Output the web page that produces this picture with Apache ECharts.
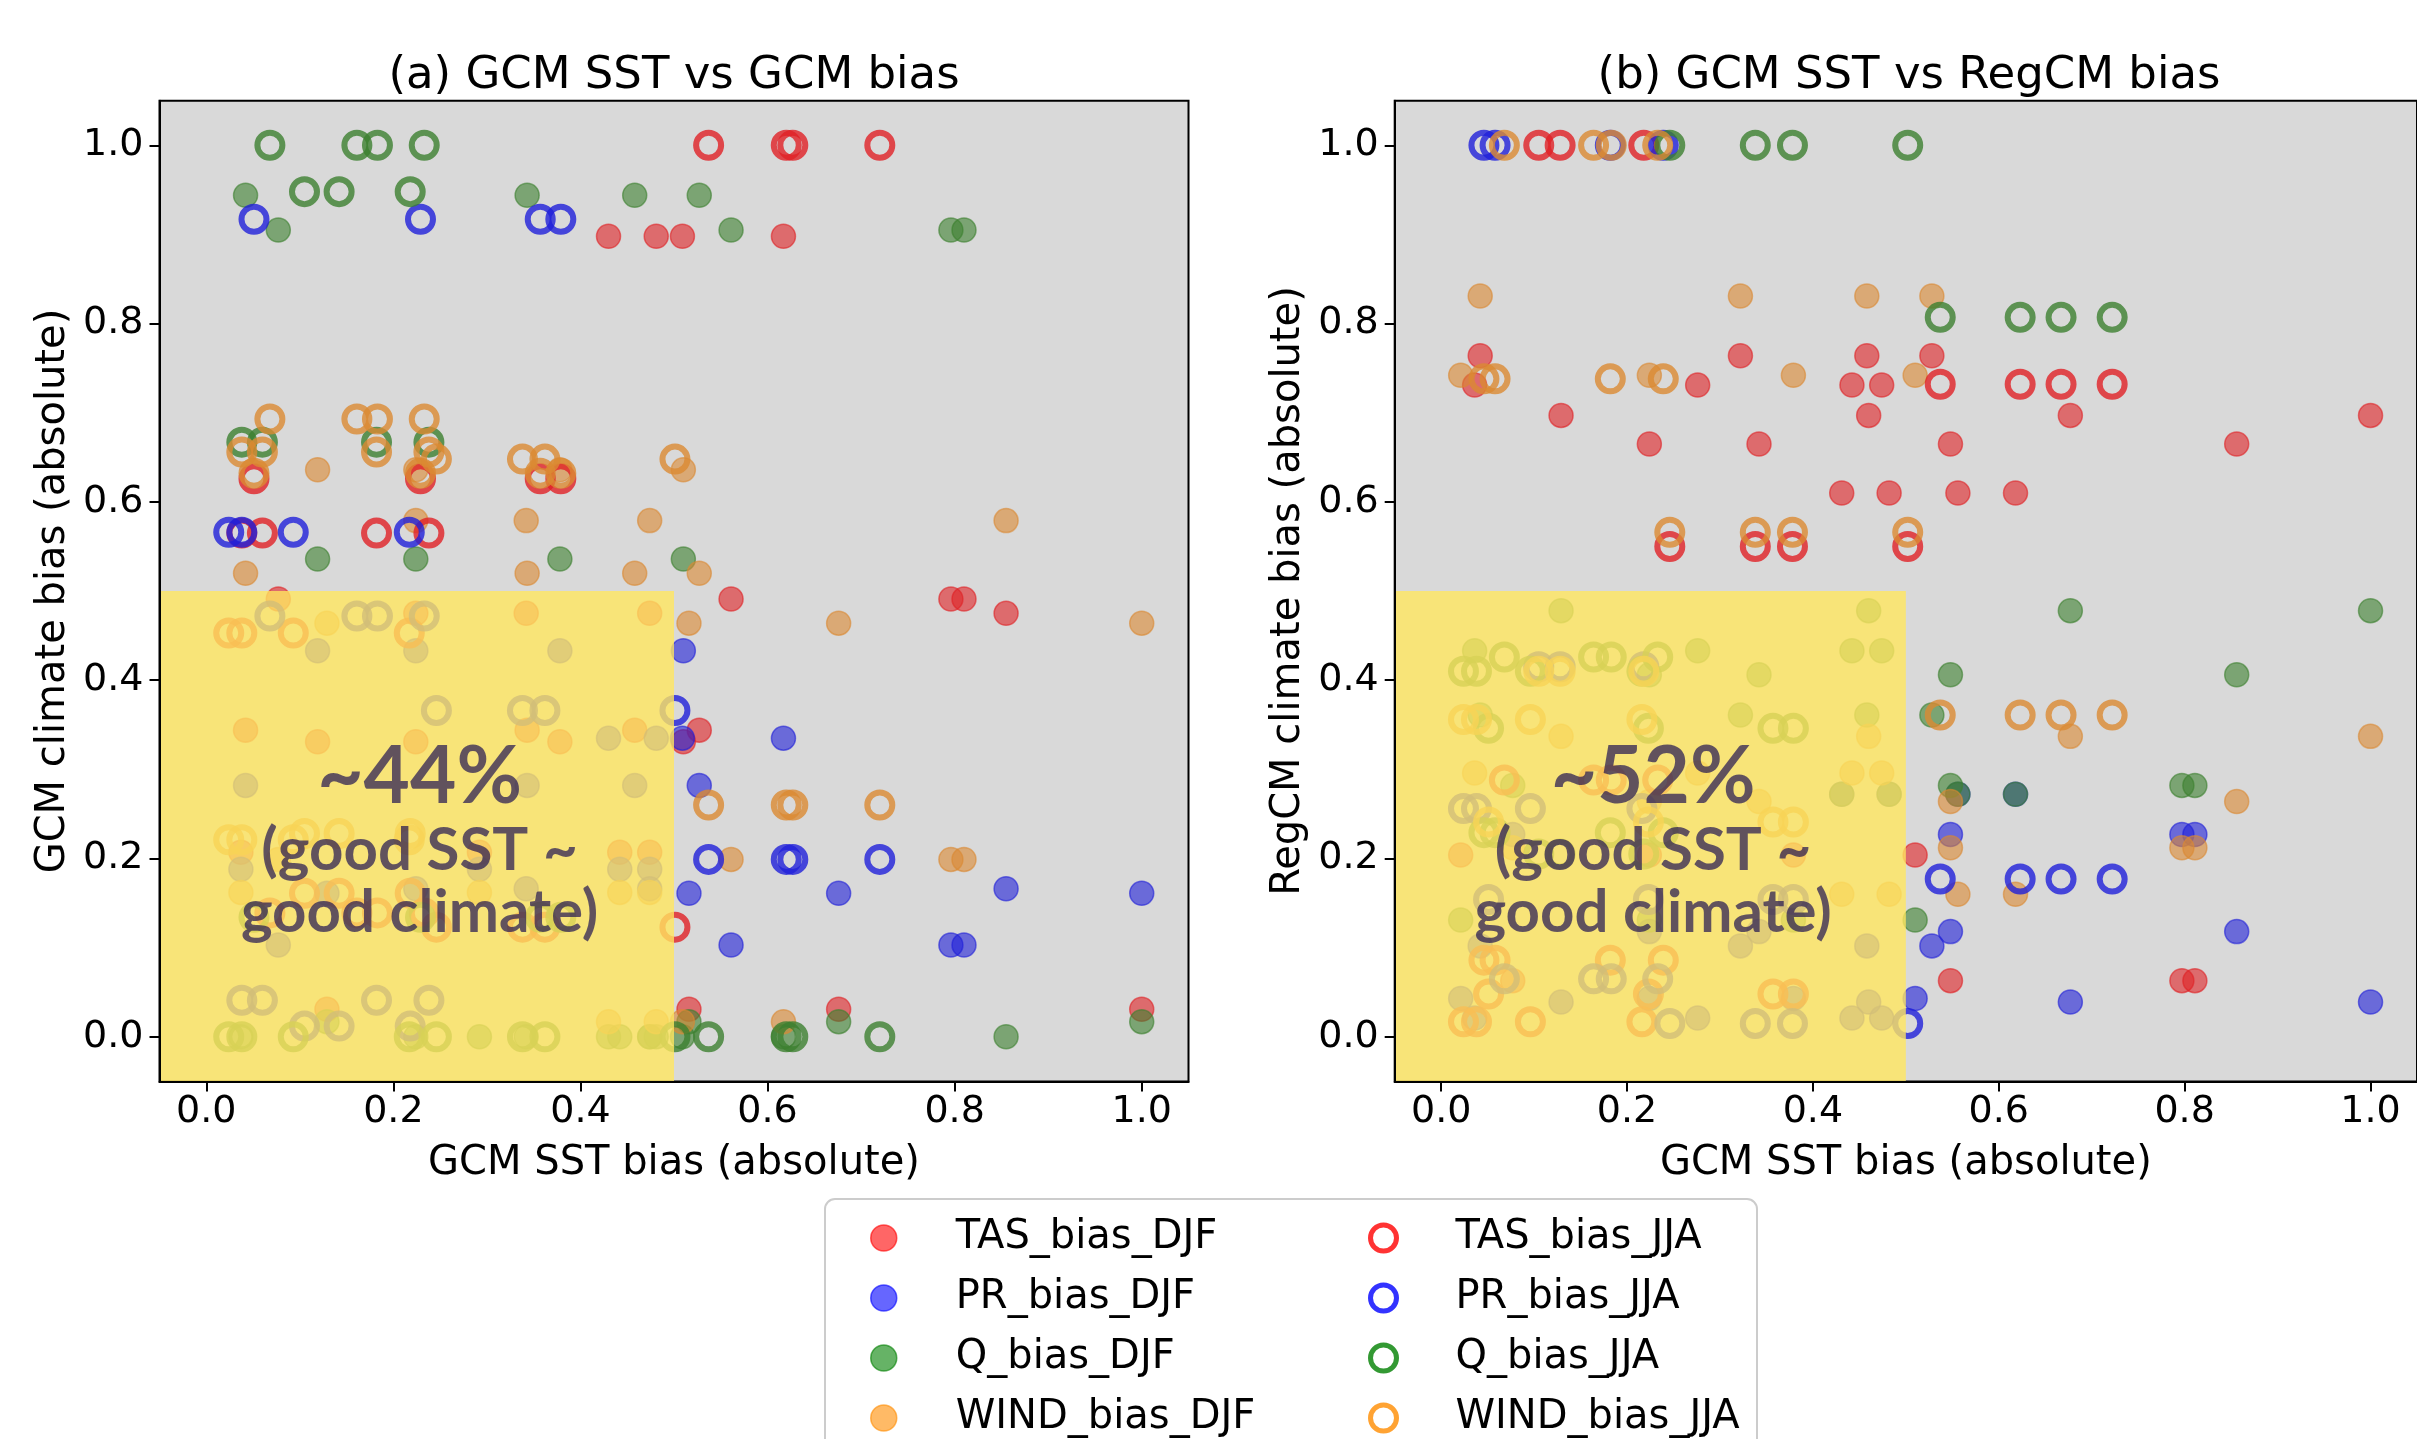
<!DOCTYPE html>
<html>
<head>
<meta charset="utf-8">
<script src="https://cdn.jsdelivr.net/npm/echarts@6/dist/echarts.min.js"></script>
<style>
  html, body { margin: 0; padding: 0; background: #ffffff; }
  #chart { width: 2417px; height: 1439px; }
</style>
</head>
<body>
<div id="chart"></div>
<script>
// ---- data ------------------------------------------------------------
// x = GCM SST bias of each model, grouped by models sharing the same climate bias
// (a) GCM bias panel, DJF models (7 groups)
const djfX_a = [
  [0.042, 0.343, 0.458, 0.527],
  [0.077, 0.561, 0.796, 0.810],
  [0.119, 0.224, 0.378, 0.510],
  [0.430, 0.481, 0.509, 0.617],
  [0.129, 0.516, 0.676, 1.000],
  [0.224, 0.342, 0.474, 0.855],
  [0.037, 0.292, 0.442, 0.474]
];
const tasDJF_a  = [0.344, 0.491, 0.331, 0.898, 0.031, 0.475, 0.207];
const prDJF_a   = [0.282, 0.103, 0.433, 0.335, 0.161, 0.166, 0.188];
const qDJF_a    = [0.944, 0.905, 0.536, 0.000, 0.017, 0.000, 0.000];
const windDJF_a = [0.520, 0.199, 0.636, 0.017, 0.464, 0.579, 0.162];

// (a) JJA models (7 groups)
const jjaX_a = [
  [0.068, 0.161, 0.183, 0.233],
  [0.051, 0.229, 0.357, 0.379],
  [0.038, 0.060, 0.182, 0.238],
  [0.024, 0.038, 0.093, 0.217],
  [0.105, 0.142, 0.218],
  [0.246, 0.338, 0.362, 0.501],
  [0.537, 0.620, 0.627, 0.720]
];
const tasJJA_a  = [0.139, 0.626, 0.565, 0.453, 0.161, 0.123, 1.000];
const prJJA_a   = [0.472, 0.917, 0.041, 0.566, 0.012, 0.366, 0.199];
const qJJA_a    = [1.000, 0.134, 0.667, 0.000, 0.948, 0.000, 0.000];
const windJJA_a = [0.693, 0.632, 0.656, 0.221, 0.228, 0.648, 0.260];

// (b) RegCM bias panel, DJF models
const djfX_b = [
  [0.042, 0.322, 0.458, 0.528],
  [0.077, 0.548, 0.797, 0.811],
  [0.021, 0.224, 0.379, 0.510],
  [0.431, 0.482, 0.556, 0.618],
  [0.129, 0.460, 0.677, 1.000],
  [0.224, 0.342, 0.548, 0.856],
  [0.036, 0.276, 0.442, 0.474]
];
const tasDJF_b  = [0.764, 0.063, 0.204, 0.610, 0.697, 0.665, 0.731];
const prDJF_b   = [0.102, 0.227, 0.043, 0.272, 0.039, 0.118, 0.021];
const qDJF_b    = [0.361, 0.282, 0.131, 0.272, 0.478, 0.406, 0.433];
const windDJF_b = [0.831, 0.212, 0.742, 0.160, 0.337, 0.264, 0.296];

// (b) JJA models
const jjaX_b = [
  [0.068, 0.164, 0.183, 0.233],
  [0.051, 0.223, 0.357, 0.379],
  [0.046, 0.058, 0.182, 0.239],
  [0.024, 0.038, 0.096, 0.216],
  [0.105, 0.128, 0.218],
  [0.246, 0.338, 0.378, 0.502],
  [0.537, 0.623, 0.667, 0.722]
];
const tasJJA_b  = [0.288, 0.048, 0.086, 0.017, 1.000, 0.550, 0.732];
const prJJA_b   = [0.065, 0.154, 1.000, 0.256, 0.415, 0.015, 0.177];
const qJJA_b    = [0.426, 0.346, 0.229, 0.410, 0.205, 1.000, 0.807];
const windJJA_b = [1.000, 0.241, 0.738, 0.356, 0.410, 0.566, 0.361];

const xTicks = [0.0, 0.2, 0.4, 0.6, 0.8, 1.0];
const yTicks = [0.0, 0.2, 0.4, 0.6, 0.8, 1.0];

const djfNames = ['TAS_bias_DJF', 'PR_bias_DJF', 'Q_bias_DJF', 'WIND_bias_DJF'];
const jjaNames = ['TAS_bias_JJA', 'PR_bias_JJA', 'Q_bias_JJA', 'WIND_bias_JJA'];
const titles = ['(a) GCM SST vs GCM bias', '(b) GCM SST vs RegCM bias'];
const yNames = ['GCM climate bias (absolute)', 'RegCM climate bias (absolute)'];
const shares = ['~44%', '~52%'];

// ---- style ------------------------------------------------------------
const FONT = 'DejaVu Sans';
const varColors = ['#e02125', '#1f1fd9', '#3c802f', '#db8932'];
// the legend handles are drawn in the plain named colours
const legendColors = ['#ff0000', '#0000ff', '#008000', '#ff8c00'];
const TEXT_INK = 'rgba(22,10,80,0.84)';

function points(groupsX, vals) {
  const out = [];
  groupsX.forEach(function (xs, i) {
    xs.forEach(function (x) { out.push([x, vals[i]]); });
  });
  return out;
}

function xAxisFor(gi) {
  return {
    type: 'value', gridIndex: gi, min: -0.05, max: 1.05, z: 20,
    name: 'GCM SST bias (absolute)', nameLocation: 'middle', nameGap: 62,
    nameTextStyle: { fontFamily: FONT, fontSize: 40, color: '#000' },
    axisLine: { show: true, onZero: false, lineStyle: { color: '#000', width: 2 } },
    axisTick: { show: true, customValues: xTicks, length: 10, lineStyle: { color: '#000', width: 2 } },
    axisLabel: { customValues: xTicks, formatter: v => v.toFixed(1), fontFamily: FONT, fontSize: 38, color: '#000', margin: 12 },
    splitLine: { show: false }
  };
}

function yAxisFor(gi) {
  return {
    type: 'value', gridIndex: gi, min: -0.05, max: 1.05, z: 20,
    name: yNames[gi], nameLocation: 'middle', nameGap: 86, nameRotate: 90,
    nameTextStyle: { fontFamily: FONT, fontSize: 40, color: '#000' },
    axisLine: { show: true, onZero: false, lineStyle: { color: '#000', width: 2 } },
    axisTick: { show: true, customValues: yTicks, length: 10, lineStyle: { color: '#000', width: 2 } },
    axisLabel: { customValues: yTicks, formatter: v => v.toFixed(1), fontFamily: FONT, fontSize: 38, color: '#000', margin: 16 },
    splitLine: { show: false }
  };
}

function panelSeries(gi, djfX, djfVals, jjaX, jjaVals) {
  const list = [];
  djfVals.forEach(function (vals, k) {
    list.push({
      name: djfNames[k], type: 'scatter', xAxisIndex: gi, yAxisIndex: gi,
      symbol: 'circle', symbolSize: 24,
      itemStyle: { color: varColors[k], opacity: 0.6, borderColor: varColors[k], borderWidth: 1.5 },
      emphasis: { disabled: true },
      data: points(djfX, vals)
    });
  });
  jjaVals.forEach(function (vals, k) {
    list.push({
      name: jjaNames[k], type: 'scatter', xAxisIndex: gi, yAxisIndex: gi,
      symbol: 'circle', symbolSize: 25,
      itemStyle: { color: 'rgba(0,0,0,0)', borderColor: varColors[k], borderWidth: 6 },
      emphasis: { disabled: true },
      data: points(jjaX, vals)
    });
  });
  // yellow "good SST" box, drawn over the markers like the original
  list.push({
    type: 'scatter', xAxisIndex: gi, yAxisIndex: gi, data: [], z: 10, silent: true,
    markArea: {
      silent: true, z: 10,
      itemStyle: { color: 'rgba(255,230,95,0.8)' },
      data: [[{ coord: [-0.05, -0.05] }, { coord: [0.5, 0.5] }]]
    }
  });
  // share annotation
  list.push({
    type: 'scatter', xAxisIndex: gi, yAxisIndex: gi, z: 20, silent: true,
    symbolSize: 0,
    data: [[0.228, 0.222]],
    label: {
      show: true, position: 'inside',
      formatter: '{p|' + shares[gi] + '}\n{s|(good SST ~}\n{s|good climate)}',
      rich: {
        p: { fontFamily: 'Lato', fontWeight: 'bold', fontSize: 80, lineHeight: 86, color: TEXT_INK, align: 'center' },
        s: { fontFamily: 'Lato', fontWeight: 'bold', fontSize: 60, lineHeight: 62, color: TEXT_INK, align: 'center' }
      }
    }
  });
  return list;
}

function legendFor(names, left, filled) {
  return {
    data: names.map(function (n, k) {
      return {
        name: n,
        itemStyle: filled
          ? { color: legendColors[k], opacity: 0.6, borderColor: legendColors[k], borderWidth: 1.5 }
          : { color: 'rgba(0,0,0,0)', borderColor: legendColors[k], borderWidth: 5 }
      };
    }),
    orient: 'vertical', left: left, top: 1213, height: 400,
    itemWidth: 26, itemHeight: 26, itemGap: 20, selectedMode: false,
    textStyle: { fontFamily: FONT, fontSize: 40, lineHeight: 40, color: '#000', padding: [0, 0, 0, 54] }
  };
}

const chart = echarts.init(document.getElementById('chart'), null, { renderer: 'canvas' });

chart.setOption({
  backgroundColor: '#ffffff',
  animation: false,
  grid: [
    { left: 159.5, top: 100.7, width: 1029, height: 980.7, show: true, backgroundColor: '#d9d9d9', borderColor: '#000', borderWidth: 2 },
    { left: 1394.7, top: 100.7, width: 1028.5, height: 980.7, show: true, backgroundColor: '#d9d9d9', borderColor: '#000', borderWidth: 2 }
  ],
  xAxis: [xAxisFor(0), xAxisFor(1)],
  yAxis: [yAxisFor(0), yAxisFor(1)],
  legend: [
    legendFor(djfNames, 865, true),
    legendFor(jjaNames, 1363, false)
  ],
  graphic: [
    { type: 'rect', z: 0, shape: { x: 825, y: 1199, width: 932, height: 300, r: 10 },
      style: { fill: '#ffffff', stroke: '#cccccc', lineWidth: 2 } },
    { type: 'text', x: 674, y: 76, style: { text: titles[0], font: '45px "DejaVu Sans"', fill: '#000', textAlign: 'center', textVerticalAlign: 'middle' } },
    { type: 'text', x: 1909, y: 76, style: { text: titles[1], font: '45px "DejaVu Sans"', fill: '#000', textAlign: 'center', textVerticalAlign: 'middle' } }
  ],
  series: [].concat(
    panelSeries(0, djfX_a, [tasDJF_a, prDJF_a, qDJF_a, windDJF_a], jjaX_a, [tasJJA_a, prJJA_a, qJJA_a, windJJA_a]),
    panelSeries(1, djfX_b, [tasDJF_b, prDJF_b, qDJF_b, windDJF_b], jjaX_b, [tasJJA_b, prJJA_b, qJJA_b, windJJA_b])
  )
});
</script>
</body>
</html>
